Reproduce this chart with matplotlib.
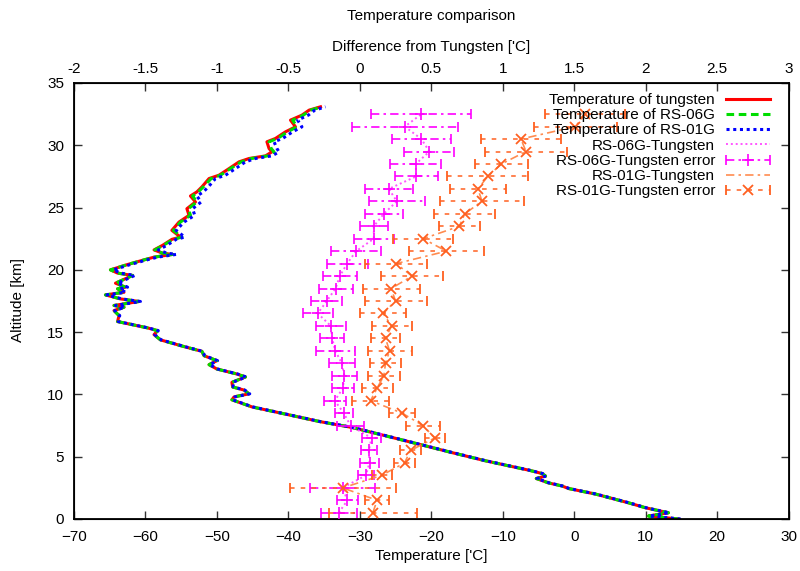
import matplotlib
matplotlib.use("Agg")
import matplotlib.pyplot as plt
from matplotlib.container import ErrorbarContainer
from matplotlib.legend_handler import HandlerErrorbar

plt.rcParams["font.family"] = ["Liberation Sans", "DejaVu Sans"]

# Temperature profiles (altitude km, temperature degC)
profile_alt = [
    0.0, 0.24, 0.5, 0.9, 1.3, 2.0, 2.45, 2.65, 2.9, 3.25,
    3.45, 3.65, 3.9, 4.67, 5.33, 6.0, 6.68, 7.35, 7.83, 8.42,
    9.0, 9.57, 9.8, 10.05, 10.35, 10.6, 10.97, 11.4, 11.64, 12.04,
    12.39, 12.71, 13.11, 13.46, 13.84, 14.38, 14.8, 15.12, 15.34, 15.85,
    16.33, 16.73, 17.0, 17.14, 17.46, 17.67, 17.99, 18.2, 18.48, 18.61,
    18.93, 19.55, 19.74, 20.0, 20.43, 20.8, 21.02, 21.24, 21.34, 21.6,
    21.97, 22.45, 22.63, 23.17, 23.84, 24.38, 24.91, 25.45, 25.93, 26.26,
    26.66, 27.33, 27.6, 28.13, 28.67, 28.94, 29.15, 29.47, 29.74, 30.28,
    30.55, 31.08, 31.48, 32.02, 32.42, 32.82, 33.09,
]
tungsten_temp = [
    14.6, 10.4, 13.2, 10.0, 7.6, 3.0, -0.8, -1.7, -3.6, -5.3,
    -4.0, -4.5, -6.2, -12.4, -17.1, -21.7, -26.4, -31.1, -35.7, -40.4,
    -45.1, -47.9, -47.6, -45.5, -46.2, -47.8, -47.9, -46.0, -47.2, -50.0,
    -51.1, -50.0, -51.8, -52.1, -54.6, -57.9, -58.8, -58.3, -59.7, -63.9,
    -63.7, -64.4, -63.0, -64.4, -60.9, -63.5, -65.6, -63.0, -63.9, -62.8,
    -64.2, -61.8, -63.9, -64.9, -62.5, -60.2, -58.8, -56.2, -57.6, -58.8,
    -57.6, -56.3, -55.1, -56.3, -55.3, -53.9, -54.2, -53.0, -53.7, -52.8,
    -52.1, -51.1, -49.7, -48.3, -46.9, -45.5, -43.2, -42.3, -42.7, -43.0,
    -41.8, -40.4, -39.0, -39.7, -38.1, -37.1, -35.5,
]
rs06_temp = [
    14.6, 10.4, 13.2, 10.0, 7.6, 3.0, -0.8, -1.7, -3.6, -5.3,
    -4.0, -4.5, -6.2, -12.4, -17.1, -21.7, -26.4, -31.1, -35.7, -40.4,
    -45.1, -47.9, -47.6, -45.5, -46.2, -47.8, -47.9, -46.0, -47.2, -50.0,
    -51.1, -50.0, -51.8, -52.1, -54.6, -57.9, -58.8, -58.3, -59.7, -63.9,
    -63.7, -64.4, -63.0, -64.4, -60.9, -63.5, -65.6, -63.0, -63.9, -62.8,
    -64.2, -61.8, -63.9, -64.9, -62.5, -60.2, -58.8, -56.2, -57.6, -58.7,
    -57.5, -56.1, -54.9, -56.1, -55.1, -53.7, -54.0, -52.8, -53.4, -52.6,
    -51.9, -50.8, -49.5, -48.1, -46.6, -45.2, -42.9, -42.0, -42.4, -42.7,
    -41.5, -40.1, -38.8, -39.4, -37.9, -36.9, -35.3,
]
rs01_temp = [
    14.9, 10.5, 13.3, 10.1, 7.7, 3.1, -0.7, -1.6, -3.5, -5.2,
    -3.9, -4.4, -6.1, -12.3, -17.0, -21.6, -26.3, -31.0, -35.6, -40.3,
    -45.0, -47.8, -47.5, -45.4, -46.1, -47.7, -47.8, -45.9, -47.1, -49.9,
    -51.0, -49.9, -51.7, -52.0, -54.5, -57.8, -58.7, -58.2, -59.6, -63.8,
    -63.6, -64.3, -62.9, -64.2, -60.7, -63.3, -65.4, -62.8, -63.6, -62.5,
    -63.9, -61.5, -63.5, -64.5, -62.1, -59.8, -58.3, -55.7, -57.0, -58.2,
    -57.0, -55.7, -54.5, -55.7, -54.6, -53.1, -53.4, -52.2, -52.8, -51.9,
    -51.2, -50.2, -48.8, -47.4, -46.0, -44.6, -42.3, -41.3, -41.6, -42.0,
    -40.8, -39.4, -38.1, -38.7, -37.2, -36.3, -34.8,
]

# Differences from tungsten, 1 km bins (top axis)
bin_alt = [
    0.5, 1.5, 2.5, 3.5, 4.5, 5.5, 6.5, 7.5, 8.5, 9.5, 10.5,
    11.5, 12.5, 13.5, 14.5, 15.5, 16.5, 17.5, 18.5, 19.5, 20.5, 21.5,
    22.5, 23.5, 24.5, 25.5, 26.5, 27.5, 28.5, 29.5, 30.5, 31.5, 32.5,
]
diff06 = [
    -0.147, -0.087, -0.121, 0.042, 0.068, 0.063, 0.082, -0.065, -0.112, -0.175, -0.119,
    -0.108, -0.126, -0.171, -0.194, -0.203, -0.294, -0.231, -0.170, -0.140, -0.089, -0.026,
    0.098, 0.098, 0.168, 0.259, 0.203, 0.394, 0.392, 0.487, 0.431, 0.315, 0.431,
]
err06 = [
    0.127, 0.073, 0.230, 0.058, 0.064, 0.058, 0.066, 0.096, 0.065, 0.078, 0.079,
    0.085, 0.090, 0.134, 0.084, 0.103, 0.105, 0.108, 0.119, 0.121, 0.143, 0.173,
    0.140, 0.100, 0.133, 0.194, 0.168, 0.150, 0.178, 0.175, 0.205, 0.370, 0.350,
]
diff01 = [
    0.091, 0.121, -0.119, 0.152, 0.313, 0.355, 0.524, 0.443, 0.296, 0.075, 0.121,
    0.168, 0.180, 0.208, 0.180, 0.222, 0.163, 0.250, 0.219, 0.366, 0.254, 0.606,
    0.443, 0.697, 0.734, 0.855, 0.827, 0.895, 0.991, 1.163, 1.128, 1.508, 1.578,
]
err01 = [
    0.308, 0.084, 0.369, 0.070, 0.076, 0.076, 0.070, 0.117, 0.093, 0.131, 0.108,
    0.110, 0.107, 0.154, 0.103, 0.140, 0.163, 0.217, 0.200, 0.215, 0.215, 0.264,
    0.210, 0.142, 0.213, 0.292, 0.198, 0.283, 0.184, 0.285, 0.280, 0.290, 0.280,
]

W, H = 800, 571
FS = 11
fig = plt.figure(figsize=(W / 100, H / 100), dpi=100)
left, right, top, bottom = 74, 788.5, 83, 519
ax = fig.add_axes([left / W, (H - bottom) / H, (right - left) / W, (bottom - top) / H])

ax.plot(tungsten_temp, profile_alt, color="#ff0000", lw=2.2, label="Temperature of tungsten")
ax.plot(rs06_temp, profile_alt, color="#00dd00", lw=2.2, linestyle=(0, (2.5, 1.5)),
        label="Temperature of RS-06G")
ax.plot(rs01_temp, profile_alt, color="#0000ff", lw=2.2, linestyle=(0, (1, 1.2)),
        label="Temperature of RS-01G")

ax.set_xlim(-70, 30)
ax.set_ylim(0, 35)
ax.set_xticks(range(-70, 31, 10))
ax.set_yticks(range(0, 36, 5))
ax.tick_params(axis="both", direction="in", length=6, width=1, labelsize=FS,
               top=False, right=True, colors="#333333", labelcolor="black")
ax.tick_params(axis="x", pad=8)
ax.tick_params(axis="y", pad=7)
for sp in ax.spines.values():
    sp.set_linewidth(1.3)

ax2 = ax.twiny()
ax2.set_xlim(-2, 3)
ax2.set_xticks([-2, -1.5, -1, -0.5, 0, 0.5, 1, 1.5, 2, 2.5, 3])
ax2.set_xticklabels(["-2", "-1.5", "-1", "-0.5", "0", "0.5", "1", "1.5", "2", "2.5", "3"])
ax2.tick_params(axis="x", direction="in", length=6, width=1, labelsize=FS, pad=5,
                colors="#333333", labelcolor="black")

l06, = ax2.plot(diff06, bin_alt, color="#ff55ff", lw=1.4, linestyle=(0, (1, 1.5)),
                label="RS-06G-Tungsten")
eb06 = ax2.errorbar(diff06, bin_alt, xerr=err06, fmt="+", color="#ff00ff", ms=8, mew=1.2,
                    elinewidth=1.2, capsize=3.5, capthick=1.2, label="RS-06G-Tungsten error")
eb06[2][0].set_linestyle((0, (5, 2.5, 1.5, 2.5)))
l01, = ax2.plot(diff01, bin_alt, color="#ff8c50", lw=1.2, linestyle=(0, (5, 2.5, 1.5, 2.5)),
                label="RS-01G-Tungsten")
eb01 = ax2.errorbar(diff01, bin_alt, xerr=err01, fmt="x", color="#ff6020", ms=7.5, mew=1.3,
                    elinewidth=1.1, capsize=3.5, capthick=1.1, label="RS-01G-Tungsten error")
eb01[2][0].set_linestyle((0, (3, 4)))

h1, lab1 = ax.get_legend_handles_labels()
handles = h1 + [l06, eb06, l01, eb01]
labels = lab1 + ["RS-06G-Tungsten", "RS-06G-Tungsten error",
                 "RS-01G-Tungsten", "RS-01G-Tungsten error"]
leg = ax2.legend(handles, labels, loc="upper right",
                 bbox_to_anchor=(770 / W, (H - 93) / H), bbox_transform=fig.transFigure,
                 frameon=False, markerfirst=False, fontsize=FS, handlelength=2.9,
                 handletextpad=0.7, labelspacing=0.08, borderpad=0, borderaxespad=0,
                 handler_map={ErrorbarContainer: HandlerErrorbar(xerr_size=1.45)})

cx = 0.5 * (left + right) / W
fig.text(cx, 1 - 16 / H, "Temperature comparison", ha="center", va="center", fontsize=FS)
fig.text(cx, 1 - 47 / H, "Difference from Tungsten ['C]", ha="center", va="center", fontsize=FS)
fig.text(cx, 1 - 556 / H, "Temperature ['C]", ha="center", va="center", fontsize=FS)
fig.text(18 / W, 1 - 300 / H, "Altitude [km]", rotation=90,
         ha="center", va="center", fontsize=FS)

fig.savefig("out.png", dpi=100, facecolor="white")
